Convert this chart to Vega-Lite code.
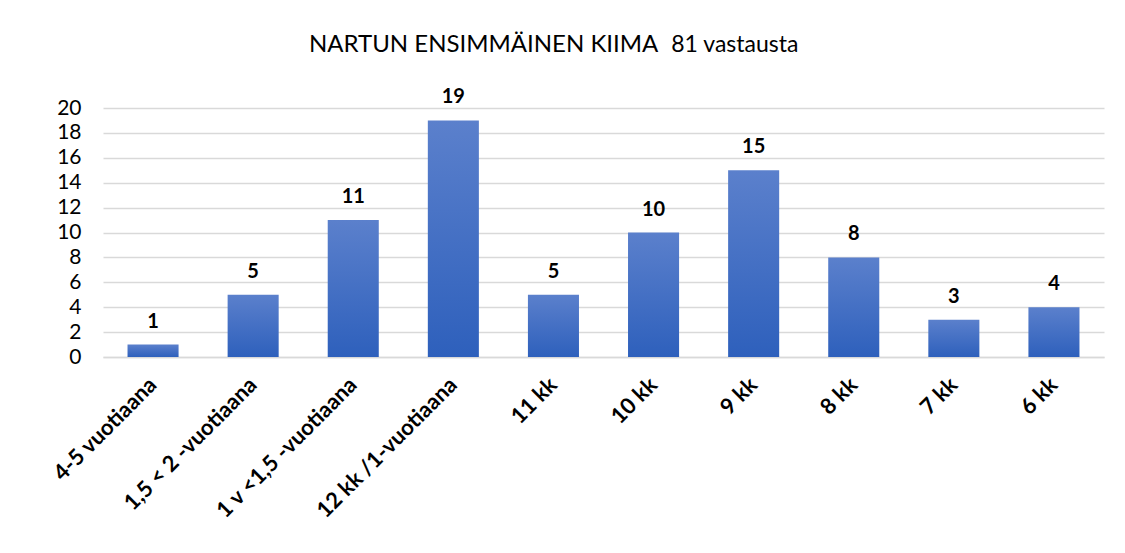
{
  "$schema": "https://vega.github.io/schema/vega-lite/v6.json",
  "width": 1001,
  "height": 249,
  "autosize": "none",
  "padding": {"left": 103, "top": 108, "right": 21, "bottom": 196},
  "background": "white",
  "title": {
    "text": "NARTUN ENSIMMÄINEN KIIMA",
    "subtitle": "\u200b\u2003\u2003\u2003\u2003\u2003\u2003\u2003\u2003\u2003\u2003\u2003\u2003\u2003\u2003\u2003\u2003\u2003\u2003\u2003\u2003\u2002\u200581 vastausta",
    "anchor": "start",
    "frame": "group",
    "dx": 206,
    "font": "Lato",
    "fontSize": 24,
    "fontWeight": "normal",
    "color": "#000000",
    "subtitleFont": "Lato",
    "subtitleFontSize": 23,
    "subtitleColor": "#000000",
    "subtitlePadding": -23,
    "offset": 30
  },
  "data": {
    "values": [
      {"kategoria": "4-5 vuotiaana", "lkm": 1},
      {"kategoria": "1,5 < 2 -vuotiaana", "lkm": 5},
      {"kategoria": "1 v <1,5 -vuotiaana", "lkm": 11},
      {"kategoria": "12 kk /1-vuotiaana", "lkm": 19},
      {"kategoria": "11 kk", "lkm": 5},
      {"kategoria": "10 kk", "lkm": 10},
      {"kategoria": "9 kk", "lkm": 15},
      {"kategoria": "8 kk", "lkm": 8},
      {"kategoria": "7 kk", "lkm": 3},
      {"kategoria": "6 kk", "lkm": 4}
    ]
  },
  "encoding": {
    "x": {
      "field": "kategoria",
      "type": "nominal",
      "sort": null,
      "scale": {"paddingInner": 0.49, "paddingOuter": 0.245},
      "axis": {
        "title": null,
        "labelAngle": -45,
        "labelAlign": "right",
        "labelBaseline": "middle",
        "labelFont": "Lato",
        "labelFontSize": 22,
        "labelFontWeight": "bold",
        "labelColor": "#000000",
        "labelPadding": 24,
        "labelLimit": 400,
        "ticks": false,
        "domainColor": "#d9d9d9",
        "domainWidth": 1.5,
        "grid": false
      }
    },
    "y": {
      "field": "lkm",
      "type": "quantitative",
      "scale": {"domain": [0, 20], "nice": false},
      "axis": {
        "title": null,
        "values": [0, 2, 4, 6, 8, 10, 12, 14, 16, 18, 20],
        "labelFont": "Lato",
        "labelFontSize": 21,
        "labelColor": "#000000",
        "labelPadding": 22,
        "ticks": false,
        "domain": false,
        "gridColor": "#d9d9d9",
        "gridWidth": 1.5
      }
    }
  },
  "layer": [
    {
      "mark": {
        "type": "bar",
        "color": {
          "gradient": "linear",
          "x1": 0, "y1": 0, "x2": 0, "y2": 1,
          "stops": [
            {"offset": 0, "color": "#5b80cc"},
            {"offset": 1, "color": "#2e60bc"}
          ]
        }
      }
    },
    {
      "mark": {
        "type": "text",
        "baseline": "alphabetic",
        "dy": -17,
        "font": "Lato",
        "fontSize": 20,
        "fontWeight": "bold",
        "color": "#000000"
      },
      "encoding": {"text": {"field": "lkm", "type": "quantitative"}}
    }
  ],
  "config": {"view": {"stroke": null}}
}
